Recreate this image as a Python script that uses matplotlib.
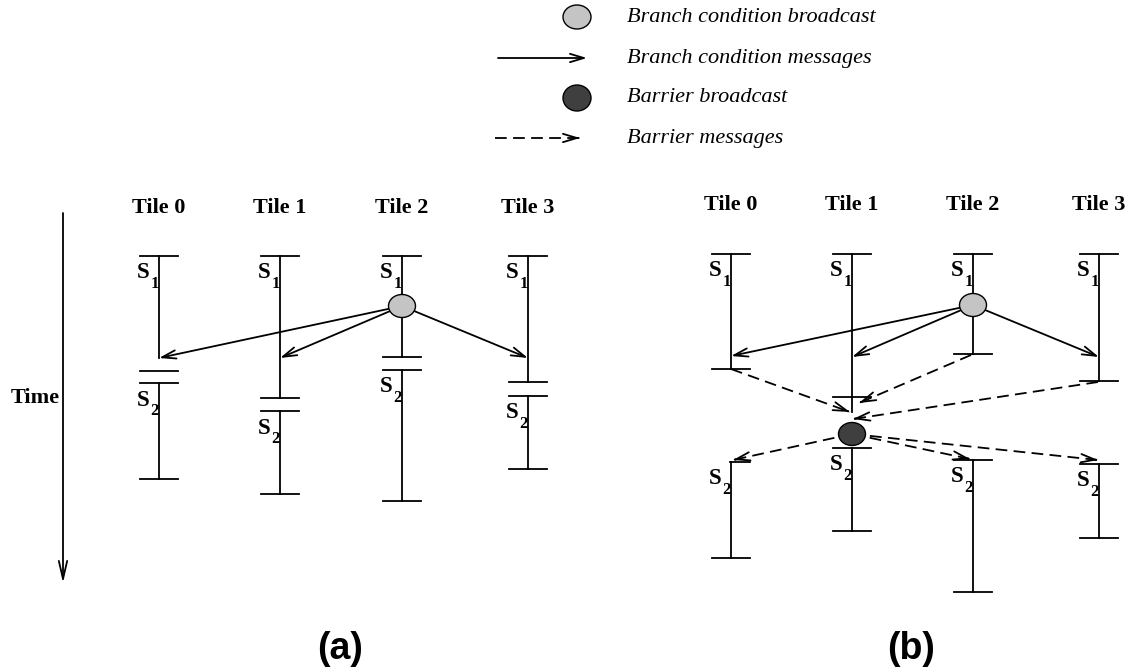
import matplotlib.pyplot as plt
from matplotlib.patches import Ellipse, FancyArrowPatch

# columns
tiles = ['Tile 0', 'Tile 1', 'Tile 2', 'Tile 3']

# panel (a): times (pixel rows)
a_x = [159, 280, 402, 528]
a_top = [256, 256, 256, 256]
a_s1_line = [358, 398, 357, 382]
a_s1_end = [371, 398, 357, 382]
a_s2_start = [383, 411, 370, 396]
a_s2_end = [479, 494, 501, 469]
a_arrive = [358, 358, None, 358]
a_bcast = (2, 306)

# panel (b)
b_x = [731, 852, 973, 1099]
b_top = [254, 254, 254, 254]
b_s1_end = [369, 397, 354, 381]
b_s2_start = [462, 448, 460, 464]
b_s2_end = [558, 531, 592, 538]
b_arrive = [356, 357, None, 357]
b_bcast = (2, 305)
b_barrier = (1, 434)
b_barrier_in = [(731, 369, 850, 412), (971, 355, 859, 403), (1098, 382, 853, 419)]
b_barrier_out = [(733, 460), (970, 459), (1098, 460)]

legend_labels = ['Branch condition broadcast', 'Branch condition messages',
                 'Barrier broadcast', 'Barrier messages']

LIGHT = '#c4c4c4'
DARK = '#3f3f3f'
LW = 1.3
SERIF = 'Liberation Serif'

fig = plt.figure(figsize=(11.3, 6.7), dpi=100)
ax = fig.add_axes([0, 0, 1, 1])
ax.set_xlim(0, 1130)
ax.set_ylim(670, 0)
ax.axis('off')


def arrow(x0, y0, x1, y1, dashed=False, hl=1.0, hw=0.3):
    if dashed:
        ax.plot([x0, x1], [y0, y1], color='k', lw=LW, ls=(0, (6.5, 3.5)), zorder=2)
        dx, dy = x1 - x0, y1 - y0
        d = (dx ** 2 + dy ** 2) ** 0.5
        x0, y0 = x1 - dx / d * 2, y1 - dy / d * 2
    p = FancyArrowPatch((x0, y0), (x1, y1), arrowstyle='->,head_length=%g,head_width=%g' % (hl, hw),
                        mutation_scale=10, lw=LW, color='k', shrinkA=0, shrinkB=0, zorder=2)
    ax.add_patch(p)


def cap(x, y, left=19, right=19):
    ax.plot([x - left, x + right], [y, y], color='k', lw=LW, zorder=2)


def slabel(x, y, n):
    ax.text(x - 22.5, y + 22.5, 'S', fontsize=16.5, fontweight='bold', family=SERIF, va='baseline', ha='left')
    ax.text(x - 8.5, y + 32, str(n), fontsize=12, fontweight='bold', family=SERIF, va='baseline', ha='left')


def circle(x, y, color):
    ax.add_patch(Ellipse((x, y), 27, 23, facecolor=color, edgecolor='k', lw=1.0, zorder=4))


# time arrow
arrow(63, 213, 63, 583, hl=1.3, hw=0.3)
ax.text(60, 403, 'Time', fontsize=16, fontweight='bold', family=SERIF, ha='right', va='baseline')

# ---- panel (a)
for i, t in enumerate(tiles):
    x = a_x[i]
    ax.text(x, 208, t, fontsize=16, fontweight='bold', family=SERIF, ha='center', va='center')
    cap(x, a_top[i])
    ax.plot([x, x], [a_top[i], a_s1_line[i]], color='k', lw=LW, zorder=2)
    cap(x, a_s1_end[i])
    cap(x, a_s2_start[i])
    ax.plot([x, x], [a_s2_start[i], a_s2_end[i]], color='k', lw=LW, zorder=2)
    cap(x, a_s2_end[i])
    slabel(x, a_top[i], 1)
    slabel(x, a_s2_start[i], 2)

bi, by = a_bcast
circle(a_x[bi], by, LIGHT)
for i, y in enumerate(a_arrive):
    if y is not None:
        arrow(a_x[bi], by, a_x[i], y)

# ---- panel (b)
for i, t in enumerate(tiles):
    x = b_x[i]
    ax.text(x, 205, t, fontsize=16, fontweight='bold', family=SERIF, ha='center', va='center')
    cap(x, b_top[i])
    ax.plot([x, x], [b_top[i], b_s1_end[i]], color='k', lw=LW, zorder=2)
    cap(x, b_s1_end[i])
    if i == 0:
        cap(x, b_s2_start[i], left=1)
    else:
        cap(x, b_s2_start[i])
    ax.plot([x, x], [b_s2_start[i], b_s2_end[i]], color='k', lw=LW, zorder=2)
    cap(x, b_s2_end[i])
    slabel(x, b_top[i], 1)
    slabel(x, b_s2_start[i], 2)

bi, by = b_bcast
circle(b_x[bi], by, LIGHT)
for i, y in enumerate(b_arrive):
    if y is not None:
        arrow(b_x[bi], by, b_x[i], y)

ri, ry = b_barrier
ax.plot([b_x[ri], b_x[ri]], [b_s1_end[ri], 412], color='k', lw=LW, zorder=2)
for x0, y0, x1, y1 in b_barrier_in:
    arrow(x0, y0, x1, y1, dashed=True)
for x1, y1 in b_barrier_out:
    arrow(b_x[ri], ry, x1, y1, dashed=True)
circle(b_x[ri], ry, DARK)

# ---- legend
leg_y = [17, 58, 98, 138]
ax.add_patch(Ellipse((577, leg_y[0]), 28, 24, facecolor=LIGHT, edgecolor='k', lw=1.0))
arrow(498, leg_y[1], 587, leg_y[1])
ax.add_patch(Ellipse((577, leg_y[2]), 28, 26, facecolor=DARK, edgecolor='k', lw=1.0))
arrow(495, leg_y[3], 580, leg_y[3], dashed=True)
for y, lab in zip(leg_y, legend_labels):
    ax.text(627, y, lab, fontsize=16, style='italic', family=SERIF, ha='left', va='center')

# captions
ax.text(340, 659, '(a)', fontsize=27, fontweight='bold', family='Liberation Sans', ha='center', va='baseline')
ax.text(911, 659, '(b)', fontsize=27, fontweight='bold', family='Liberation Sans', ha='center', va='baseline')

fig.savefig('out.png', dpi=100)
